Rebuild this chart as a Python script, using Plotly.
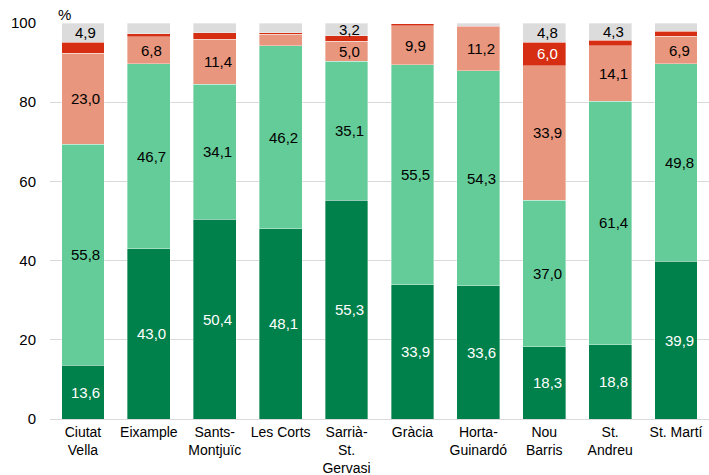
import plotly.graph_objects as go

districts = ["Ciutat<br>Vella", "Eixample", "Sants-<br>Montjuïc", "Les Corts", "Sarrià-<br>St.<br>Gervasi",
             "Gràcia", "Horta-<br>Guinardó", "Nou<br>Barris", "St.<br>Andreu", "St. Martí"]

s1 = [13.6, 43.0, 50.4, 48.1, 55.3, 33.9, 33.6, 18.3, 18.8, 39.9]   # dark green
s2 = [55.8, 46.7, 34.1, 46.2, 35.1, 55.5, 54.3, 37.0, 61.4, 49.8]   # light green
s3 = [23.0, 6.8, 11.4, 2.9, 5.0, 9.9, 11.2, 33.9, 14.1, 6.9]        # salmon
s4 = [2.7, 0.8, 1.7, 0.3, 1.4, 0.5, 0.1, 6.0, 1.4, 1.3]             # red
s5 = [4.9, 2.7, 2.4, 2.5, 3.2, 0.0, 0.8, 4.8, 4.3, 2.1]             # grey

# which values carry a data label
show1 = [True] * 10
show2 = [True] * 10
show3 = [True, True, True, False, True, True, True, True, True, True]
show4 = [False, False, False, False, False, False, False, True, False, False]
show5 = [True, False, False, False, True, False, False, True, True, False]

FONT = "Liberation Sans, Arial, sans-serif"

series = [
    (s1, show1, "#00804A", "white"),
    (s2, show2, "#64CC98", "black"),
    (s3, show3, "#E8967D", "black"),
    (s4, show4, "#D62E12", "white"),
    (s5, show5, "#DCDCDC", "black"),
]

fig = go.Figure()
annotations = []
base = [0.0] * len(districts)
for vals, show, color, tcolor in series:
    fig.add_trace(go.Bar(
        x=districts, y=vals,
        marker=dict(color=color, line=dict(color="rgba(255,255,255,0.6)", width=0.6)),
        hoverinfo="skip", showlegend=False))
    for i, v in enumerate(vals):
        if show[i]:
            annotations.append(dict(
                x=districts[i], y=base[i] + v / 2, xref="x", yref="y",
                text=f"{v:.1f}".replace(".", ","), showarrow=False, xshift=3,
                font=dict(family=FONT, size=15, color=tcolor)))
        base[i] += v

annotations.append(dict(x=0, y=1.0, xref="paper", yref="paper", xanchor="left", yanchor="middle",
                        xshift=6, yshift=9, text="%", showarrow=False,
                        font=dict(family=FONT, size=15, color="black")))

fig.update_layout(
    barmode="stack", bargap=0.35,
    width=709, height=475,
    margin=dict(l=50, r=0, t=23, b=56),
    plot_bgcolor="white", paper_bgcolor="white",
    font=dict(family=FONT, size=15, color="black"),
    annotations=annotations,
    xaxis=dict(showgrid=False, showline=False, ticks="", tickfont=dict(size=14),
               automargin=False, ticklabelstandoff=3),
    yaxis=dict(range=[0, 100], tick0=0, dtick=20, showgrid=True, gridcolor="#D9D9D9", gridwidth=1.3,
               zeroline=True, zerolinecolor="#D9D9D9", zerolinewidth=1.3, showline=False,
               ticks="", ticklabelstandoff=13, tickfont=dict(size=15), automargin=False),
)

fig.write_html("out.html", config={"displayModeBar": False},
               post_script="document.body.style.margin='0';document.body.style.overflow='hidden';")
